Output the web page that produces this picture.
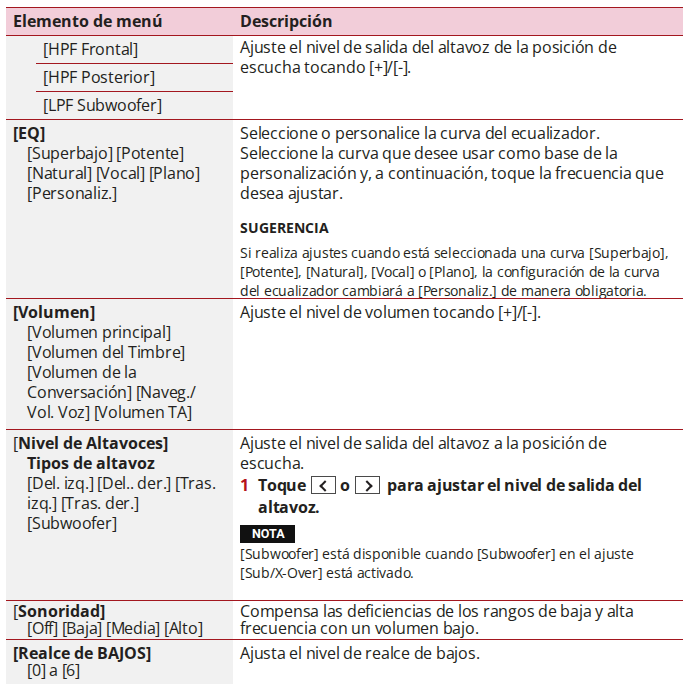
<!DOCTYPE html>
<html>
<head>
<meta charset="utf-8">
<script src="https://cdn.jsdelivr.net/npm/chart.js@4.4.1/dist/chart.umd.min.js"></script>
<style>
  @font-face { font-family: "OSx"; font-weight: 400; font-style: normal;
    src: local("Open Sans Regular"), local("OpenSans-Regular"), local("Open Sans");
    ascent-override: 92%; descent-override: 15%; line-gap-override: 0%; }
  @font-face { font-family: "OSx"; font-weight: 700; font-style: normal;
    src: local("Open Sans Bold"), local("OpenSans-Bold");
    ascent-override: 92%; descent-override: 15%; line-gap-override: 0%; }
  html, body { margin: 0; padding: 0; background: #ffffff; }
  body { width: 683px; height: 684px; overflow: hidden; position: relative;
         font-family: "OSx", "Open Sans", "Noto Sans", sans-serif; color: #231f20; font-size: 16px; letter-spacing: -0.25px; }
  .cell { position: absolute; box-sizing: border-box; }
  .hline { position: absolute; height: 1px; background: #a3171f; }
  .blk { white-space: nowrap; }
  .b { font-weight: 700; }
  .ttl { font-weight: 700; font-size: 16px; letter-spacing: 0; }
  .small { font-size: 14px; letter-spacing: -0.3px; }
  .tip { font-weight: 700; font-size: 14px; letter-spacing: 0; }
  .key { display: inline-block; box-sizing: border-box; width: 25px; height: 18px; border: 1px solid #4a4a4a;
         vertical-align: middle; position: relative; top: -2px; margin: 0 4px 0 5px; }
  .key i { position: absolute; top: 5px; width: 6px; height: 6px; border-left: 2px solid #231f20; border-bottom: 2px solid #231f20; }
  .key.l i { left: 9px; transform: rotate(45deg); }
  .key.r i { left: 7px; transform: rotate(-135deg); }
  .nota { display: inline-block; background: #111; color: #fff; font-weight: 700; font-size: 12.5px; letter-spacing: 0;
          padding: 0 10px 0 12px; line-height: 18px; height: 18px; font-family: "Roboto", "Open Sans", sans-serif; }
  .stepnum { color: #b5121b; font-weight: 700; display: inline-block; width: 18px; }
</style>
</head>
<body>
<script>
// ---- table content (data) ----
const headers = ["Elemento de menú", "Descripción"];

const hpfItems = ["[HPF Frontal]", "[HPF Posterior]", "[LPF Subwoofer]"];
const hpfDescription = ["Ajuste el nivel de salida del altavoz de la posición de", "escucha tocando [+]/[-]."];

const eqTitle = "[EQ]";
const eqOptions = ["[Superbajo] [Potente]", "[Natural] [Vocal] [Plano]", "[Personaliz.]"];
const eqDescription = [
  "Seleccione o personalice la curva del ecualizador.",
  "Seleccione la curva que desee usar como base de la",
  "personalización y, a continuación, toque la frecuencia que",
  "desea ajustar."
];
const eqTipTitle = "SUGERENCIA";
const eqTipLines = [
  "Si realiza ajustes cuando está seleccionada una curva [Superbajo],",
  "[Potente], [Natural], [Vocal] o [Plano], la configuración de la curva",
  "del ecualizador cambiará a [Personaliz.] de manera obligatoria."
];

const volTitle = "[Volumen]";
const volOptions = ["[Volumen principal]", "[Volumen del Timbre]", "[Volumen de la", "Conversación] [Naveg./", "Vol. Voz] [Volumen TA]"];
const volDescription = ["Ajuste el nivel de volumen tocando [+]/[-]."];

const spkTitle = "Nivel de Altavoces";
const spkSubTitle = "Tipos de altavoz";
const spkOptions = ["[Del. izq.] [Del.. der.] [Tras.", "izq.] [Tras. der.]", "[Subwoofer]"];
const spkDescription = ["Ajuste el nivel de salida del altavoz a la posición de", "escucha."];
const spkStep = { num: "1", pre: "Toque", mid: "o", post: "para ajustar el nivel de salida del", cont: "altavoz." };
const spkNoteLabel = "NOTA";
const spkNoteLines = ["[Subwoofer] está disponible cuando [Subwoofer] en el ajuste", "[Sub/X-Over] está activado."];

const loudTitle = "Sonoridad";
const loudOptions = ["[Off] [Baja] [Media] [Alto]"];
const loudDescription = ["Compensa las deficiencias de los rangos de baja y alta", "frecuencia con un volumen bajo."];

const bassTitle = "[Realce de BAJOS]";
const bassOptions = ["[0] a [6]"];
const bassDescription = ["Ajusta el nivel de realce de bajos."];

// ---- layout (positions / sizes / styles) ----
const X0 = 6, XS = 233, X1 = 700, PAD = 7, IND = 14;
const rowTops = [7, 35, 119, 298, 429, 600, 639, 720];
const colors = { header: "#f2cdd9", gray: "#f1f1f1" };

const body = document.body;
function el(html, css) {
  const d = document.createElement("div");
  d.className = "cell";
  d.innerHTML = html;
  Object.assign(d.style, css);
  body.appendChild(d);
  return d;
}
function hline(x, y, w) {
  const d = document.createElement("div");
  d.className = "hline";
  Object.assign(d.style, { left: x + "px", top: y + "px", width: w + "px" });
  body.appendChild(d);
}
function blk(arr, cls, lh, indent, extra) {
  return `<div class="blk ${cls || ""}" style="line-height:${lh}px;padding-left:${indent || 0}px;${extra || ""}">${arr.join("<br>")}</div>`;
}
function lbox(r, padTop) {
  return { left: X0 + "px", top: rowTops[r] + "px", width: (XS - X0) + "px", height: (rowTops[r + 1] - rowTops[r]) + "px", padding: `${padTop}px 0 0 ${PAD}px` };
}
function dbox(r, padTop) {
  return { left: XS + "px", top: rowTops[r] + "px", width: (X1 - XS) + "px", height: (rowTops[r + 1] - rowTops[r]) + "px", padding: `${padTop}px 0 0 ${PAD}px` };
}

// header background
el("", { left: X0 + "px", top: rowTops[0] + "px", width: (X1 - X0) + "px", height: (rowTops[1] - rowTops[0]) + "px", background: colors.header });
// gray left column
el("", { left: X0 + "px", top: rowTops[1] + "px", width: (XS - X0) + "px", height: (rowTops[rowTops.length - 1] - rowTops[1]) + "px", background: colors.gray });

// header texts
el(`<div class="blk ttl" style="line-height:28px">${headers[0]}</div>`, { left: (X0 + PAD) + "px", top: rowTops[0] + "px" });
el(`<div class="blk ttl" style="line-height:28px">${headers[1]}</div>`, { left: (XS + PAD) + "px", top: rowTops[0] + "px" });

// row 1: HPF sub rows
const subH = (rowTops[2] - rowTops[1]) / hpfItems.length;
hpfItems.forEach((t, i) => {
  el(`<div class="blk" style="line-height:${subH}px">${t}</div>`, { left: "43px", top: (rowTops[1] + i * subH) + "px" });
  if (i > 0) hline(36, Math.round(rowTops[1] + i * subH), XS - 36);
});
el(blk(hpfDescription, "", 20), dbox(1, 2));

// row 2: EQ
el(blk([eqTitle], "ttl", 20) + blk(eqOptions, "", 20, IND), lbox(2, 4));
el(blk(eqDescription, "", 20) +
   blk([eqTipTitle], "tip", 19, 0, "margin-top:15px") +
   blk(eqTipLines, "small", 19, 0, "margin-top:6px"),
   dbox(2, 4));

// row 3: Volumen
el(blk([volTitle], "ttl", 20) + blk(volOptions, "", 20, IND), lbox(3, 4));
el(blk(volDescription, "", 20), dbox(3, 4));

// row 4: Nivel de Altavoces
el(`<div class="blk" style="line-height:20px">[<span class="ttl">${spkTitle}]</span></div>` +
   blk([spkSubTitle], "ttl", 20, IND) +
   blk(spkOptions, "", 20, IND), lbox(4, 4));
el(blk(spkDescription, "", 20) +
   `<div class="blk b" style="line-height:22px;margin-top:1px"><span class="stepnum">${spkStep.num}</span>${spkStep.pre}<span class="key l"><i></i></span>${spkStep.mid}<span class="key r"><i></i></span> ${spkStep.post}<br><span style="display:inline-block;width:18px"></span>${spkStep.cont}</div>` +
   `<div style="margin-top:5px;height:18px;line-height:18px"><span class="nota">${spkNoteLabel}</span></div>` +
   blk(spkNoteLines, "small", 19, 0, "margin-top:3px"),
   dbox(4, 4));

// row 5: Sonoridad
el(`<div class="blk" style="line-height:17px">[<span class="ttl">${loudTitle}]</span><br><span style="padding-left:${IND}px">${loudOptions.join("")}</span></div>`, lbox(5, 2));
el(blk(loudDescription, "", 17), dbox(5, 2));

// row 6: Realce de BAJOS
el(`<div class="blk" style="line-height:17px"><span class="ttl">${bassTitle}</span><br><span style="padding-left:${IND}px">${bassOptions.join("")}</span></div>`, lbox(6, 5));
el(blk(bassDescription, "", 17), dbox(6, 5));

// horizontal rules
[0, 1, 2, 3, 4, 5, 6].forEach(r => hline(X0, rowTops[r], X1 - X0));
</script>
</body>
</html>
